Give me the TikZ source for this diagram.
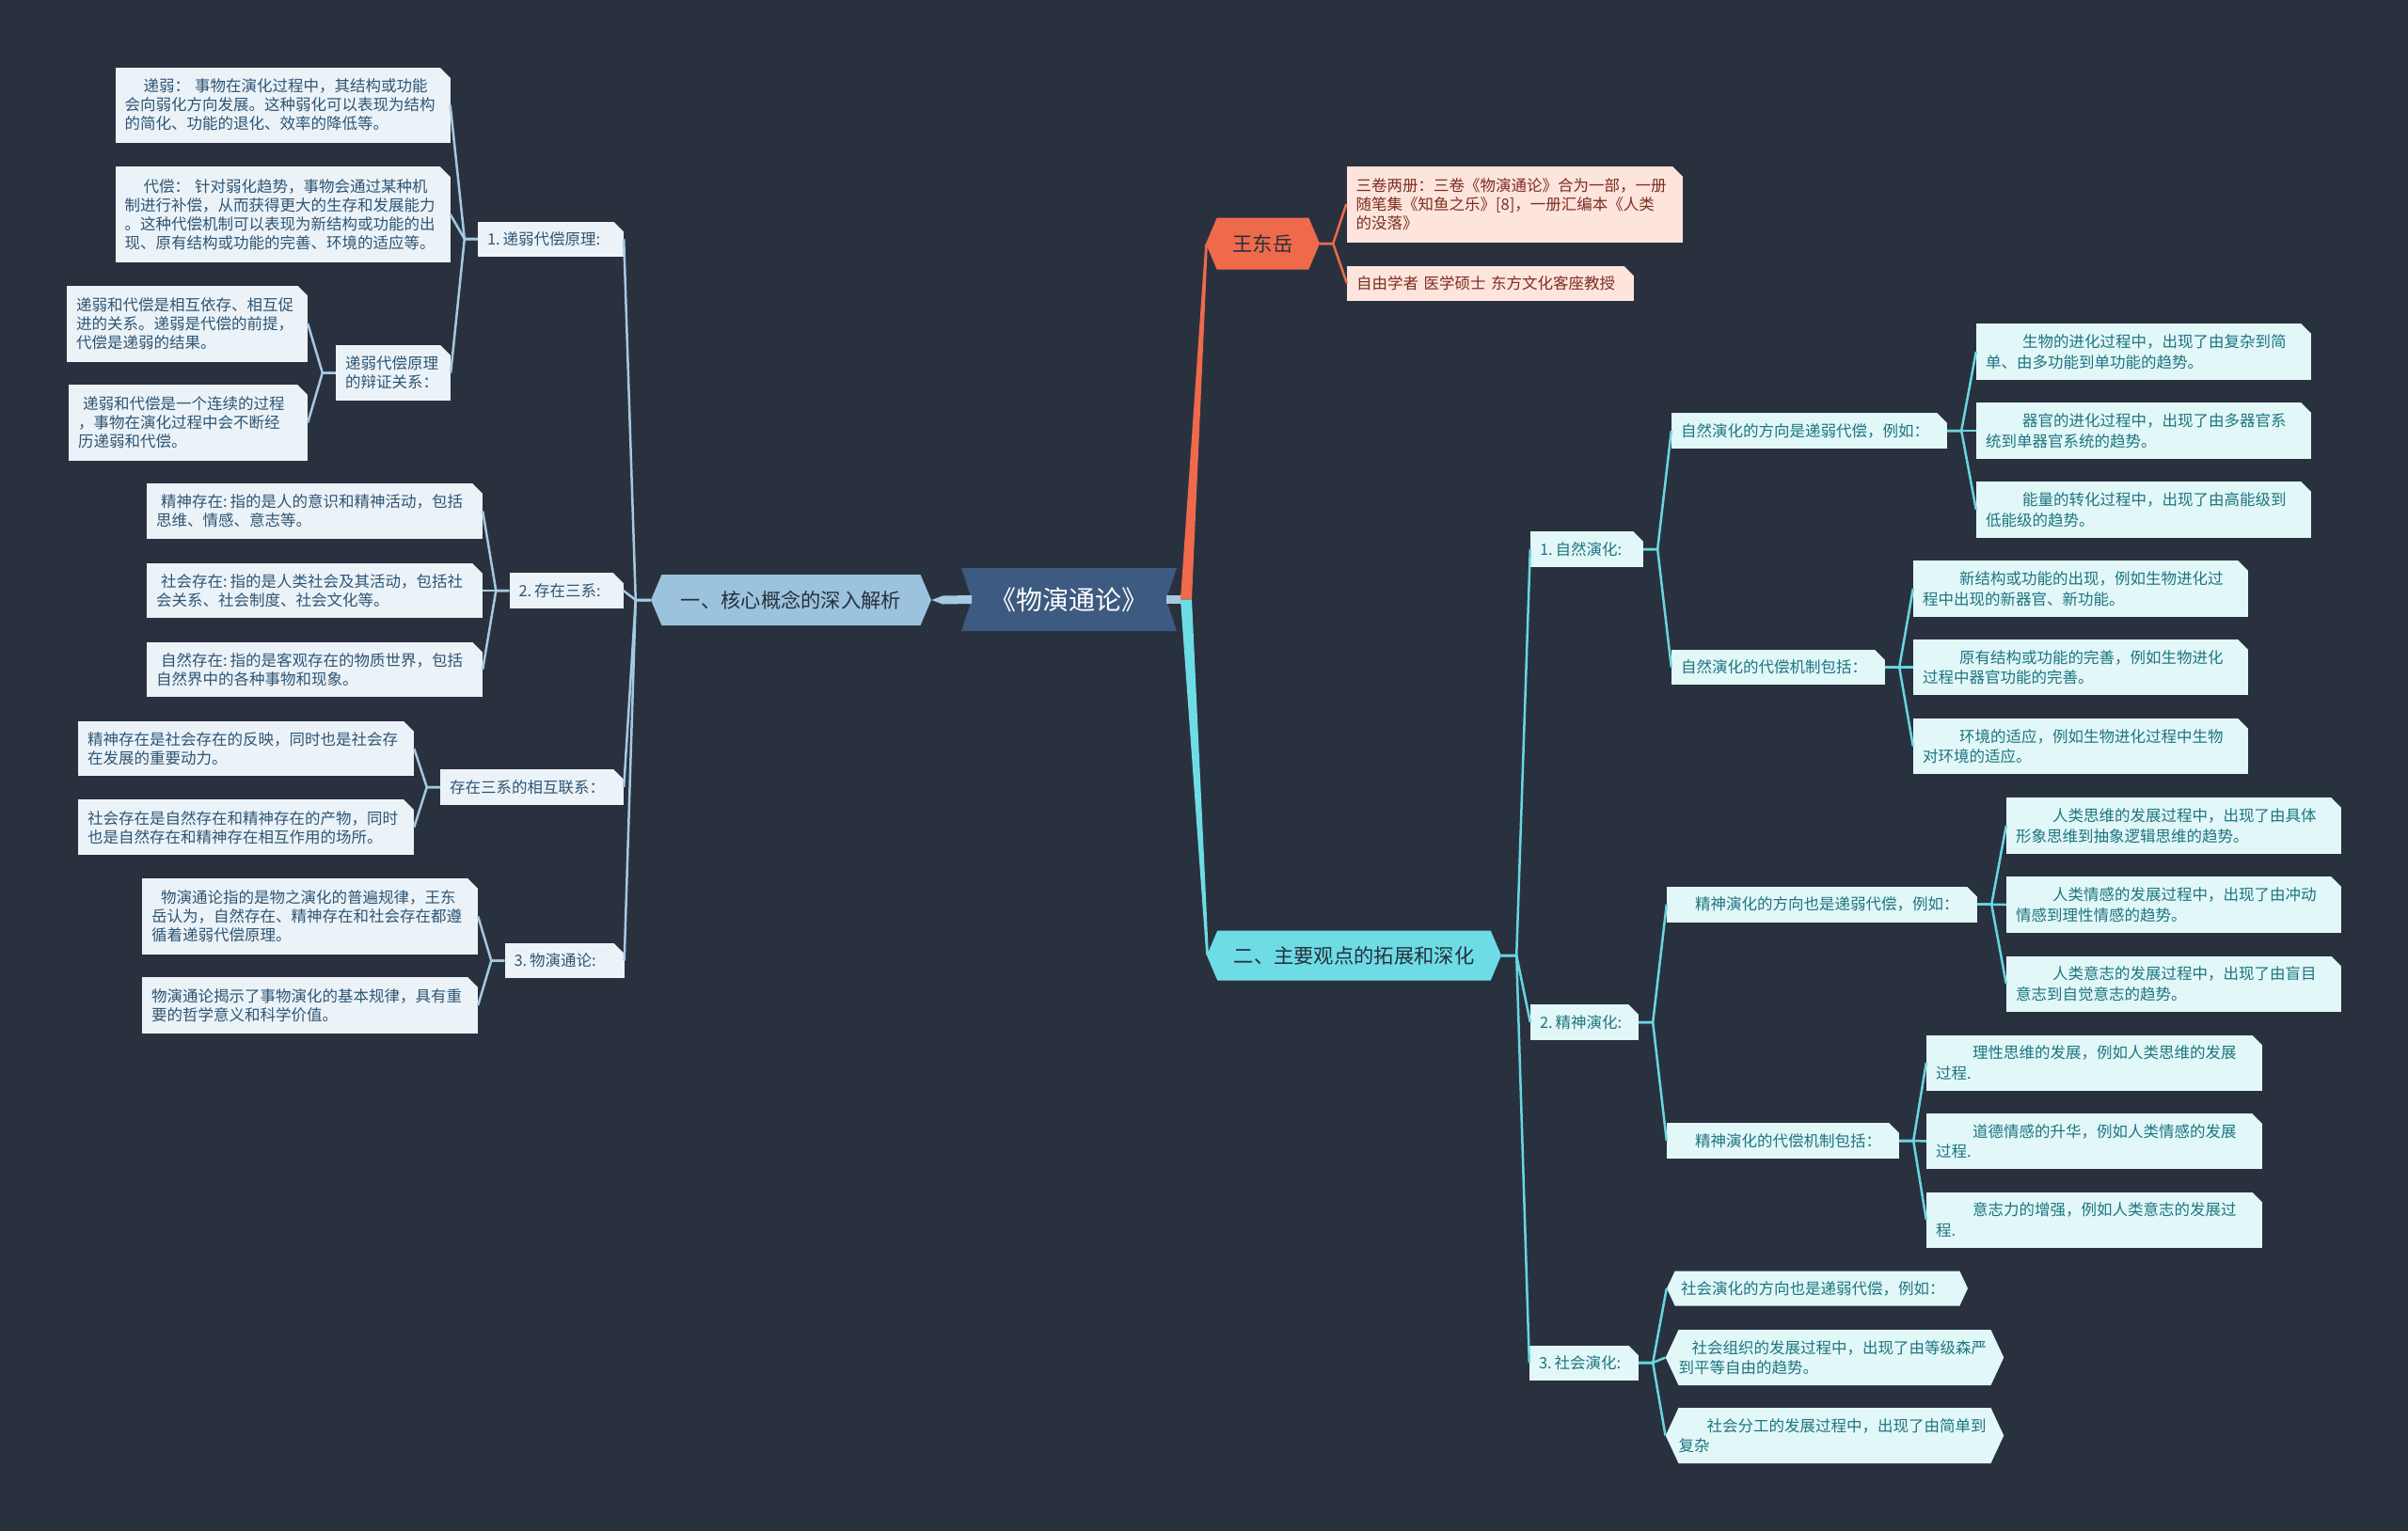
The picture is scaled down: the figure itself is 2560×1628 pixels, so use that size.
\documentclass[tikz,border=0pt]{standalone}
\usepackage{fontspec}
\newfontfamily\cjk{Noto Sans CJK SC}
\usetikzlibrary{calc, shapes.symbols}

\begin{document}
\begin{tikzpicture}[x=1pt, y=-1pt]
    % Define colours
    \definecolor{bgColour}{HTML}{29313F}
    \definecolor{centreColour}{HTML}{3D5A80}
    \definecolor{leftMain}{HTML}{9CC3DD}
    \definecolor{leftLine}{HTML}{A4C9E3}
    \definecolor{leftFill}{HTML}{EBF3F9}
    \definecolor{leftText}{HTML}{2F5573}
    \definecolor{authMain}{HTML}{EE6A4B}
    \definecolor{authFill}{HTML}{FDE4DD}
    \definecolor{authText}{HTML}{7C2E1F}
    \definecolor{rightMain}{HTML}{6EDCE5}
    \definecolor{rightLine}{HTML}{68D6E0}
    \definecolor{rightFill}{HTML}{E2F7F8}
    \definecolor{rightText}{HTML}{1D7580}
    \definecolor{darkText}{HTML}{26303D}

    % Macros for the font sizes
    \def\smallFont{\cjk\fontsize{16.5}{20}\selectfont}
    \def\rightFont{\cjk\fontsize{16.5}{21.5}\selectfont}
    \def\topicFont{\cjk\fontsize{21.3}{25}\selectfont}
    \def\titleFont{\cjk\fontsize{28}{32}\selectfont}
    \def\cut{11} % Size of the cut corner
    \def\ind{\hspace*{39pt}} % Indent of the right leaves
    \def\num#1{#1.\hspace{3pt}} % Number in front of a branch

    \tikzset{
      box/.style={rectangle, align=left, inner xsep=10pt, inner ysep=0pt, font=\smallFont},
      leftBox/.style={box, fill=leftFill, text=leftText},
      rightBox/.style={box, fill=rightFill, text=rightText, font=\rightFont},
      authBox/.style={box, fill=authFill, text=authText},
      wh/.style 2 args={text width=#1pt, minimum height=#2pt},
      topic/.style={signal, signal to=west and east, signal pointer angle=134, inner sep=0pt, font=\topicFont, text=darkText},
      tag/.style={signal, signal to=west and east, signal pointer angle=130, fill=rightFill, text=rightText, font=\rightFont, align=left, inner sep=0pt},
      leftWire/.style={draw=leftLine, line width=2.5pt, line join=round},
      rightWire/.style={draw=rightLine, line width=2.5pt, line join=round},
      authWire/.style={draw=authMain, line width=2.5pt, line join=round}
    }

  % Draw the background
  \fill[bgColour] (0,0) rectangle (2560,1628);
  \useasboundingbox (0,0) rectangle (2560,1628);

  % Central title and the two main topics
  \node[signal, signal to=nowhere, signal from=west and east, signal pointer angle=143, fill=centreColour, text=white, font=\titleFont, minimum width=229, minimum height=67, inner sep=0pt] (cen) at (1136.5,637.5) {《物演通论》};
  \node[topic, fill=leftMain, minimum width=298, minimum height=54] (one) at (841,638) {一、核心概念的深入解析};
  \node[topic, fill=authMain, minimum width=121, minimum height=55] (wdy) at (1342.5,259) {王东岳};
  \node[topic, fill=rightMain, minimum width=313, minimum height=53] (two) at (1439.5,1016) {二、主要观点的拓展和深化};

  % Left side: 1. 递弱代偿原理
  \node[leftBox, wh={135}{37}] (n1) at (585.5,254) {\num{1}递弱代偿原理:};
  \node[leftBox, wh={336}{80}] (a1) at (300.5,111.7) {\hspace*{20pt}递弱：\hspace{5pt}事物在演化过程中，其结构或功能\\会向弱化方向发展。这种弱化可以表现为结构\\的简化、功能的退化、效率的降低等。};
  \node[leftBox, wh={336}{102}] (a2) at (300.5,228) {\hspace*{20pt}代偿：\hspace{5pt}针对弱化趋势，事物会通过某种机\\制进行补偿，从而获得更大的生存和发展能力\\。这种代偿机制可以表现为新结构或功能的出\\现、原有结构或功能的完善、环境的适应等。};
  \node[leftBox, wh={102}{59}] (n11) at (418,396.5) {递弱代偿原理\\的辩证关系：};
  \node[leftBox, wh={236}{81}] (a3) at (199,344) {递弱和代偿是相互依存、相互促\\进的关系。递弱是代偿的前提，\\代偿是递弱的结果。};
  \node[leftBox, wh={234}{81}] (a4) at (200,449.5) {\hspace*{5pt}递弱和代偿是一个连续的过程\\，事物在演化过程中会不断经\\历递弱和代偿。};

  % Left side: 2. 存在三系
  \node[leftBox, wh={101}{38}] (n2) at (602,628) {\num{2}存在三系:};
  \node[leftBox, wh={337}{59}] (b1) at (334.5,543.5) {\hspace*{5pt}精神存在:\hspace{3pt}指的是人的意识和精神活动，包括\\思维、情感、意志等。};
  \node[leftBox, wh={337}{58}] (b2) at (334.5,628) {\hspace*{5pt}社会存在:\hspace{3pt}指的是人类社会及其活动，包括社\\会关系、社会制度、社会文化等。};
  \node[leftBox, wh={337}{58}] (b3) at (334.5,711.7) {\hspace*{5pt}自然存在:\hspace{3pt}指的是客观存在的物质世界，包括\\自然界中的各种事物和现象。};
  \node[leftBox, wh={175}{38}] (n21) at (565.5,837) {存在三系的相互联系：};
  \node[leftBox, wh={337}{58}] (b4) at (261.5,796) {精神存在是社会存在的反映，同时也是社会存\\在发展的重要动力。};
  \node[leftBox, wh={337}{59}] (b5) at (261.5,879.7) {社会存在是自然存在和精神存在的产物，同时\\也是自然存在和精神存在相互作用的场所。};

  % Left side: 3. 物演通论
  \node[leftBox, wh={107}{37}] (n3) at (600,1021.5) {\num{3}物演通论:};
  \node[leftBox, wh={337}{81}] (c1) at (329.5,974.5) {\hspace*{10pt}物演通论指的是物之演化的普遍规律，王东\\岳认为，自然存在、精神存在和社会存在都遵\\循着递弱代偿原理。};
  \node[leftBox, wh={337}{60}] (c2) at (329.5,1069) {物演通论揭示了事物演化的基本规律，具有重\\要的哲学意义和科学价值。};

  % Right side: the author
  \node[authBox, wh={337}{81}] (w1) at (1610,217) {三卷两册：三卷《物演通论》合为一部，一册\\随笔集《知鱼之乐》[8]，一册汇编本《人类\\的没落》};
  \node[authBox, wh={285}{37}] (w2) at (1584.5,301) {自由学者 医学硕士 东方文化客座教授};

  % Right side: 1. 自然演化
  \node[rightBox, wh={100}{38}] (rn1) at (1687,584) {\num{1}自然演化:};
  \node[rightBox, wh={273}{38}] (ra) at (1923.5,458) {自然演化的方向是递弱代偿，例如：};
  \node[rightBox, wh={336}{60}] (r1) at (2279,374) {\ind 生物的进化过程中，出现了由复杂到简\\单、由多功能到单功能的趋势。};
  \node[rightBox, wh={336}{60}] (r2) at (2279,458) {\ind 器官的进化过程中，出现了由多器官系\\统到单器官系统的趋势。};
  \node[rightBox, wh={336}{60}] (r3) at (2279,542) {\ind 能量的转化过程中，出现了由高能级到\\低能级的趋势。};
  \node[rightBox, wh={207}{37}] (rb) at (1890.5,709.5) {自然演化的代偿机制包括：};
  \node[rightBox, wh={336}{60}] (r4) at (2212,626) {\ind 新结构或功能的出现，例如生物进化过\\程中出现的新器官、新功能。};
  \node[rightBox, wh={336}{59}] (r5) at (2212,709.5) {\ind 原有结构或功能的完善，例如生物进化\\过程中器官功能的完善。};
  \node[rightBox, wh={336}{59}] (r6) at (2212,793.5) {\ind 环境的适应，例如生物进化过程中生物\\对环境的适应。};

  % Right side: 2. 精神演化
  \node[rightBox, wh={95}{38}] (rn2) at (1684.5,1087) {\num{2}精神演化:};
  \node[rightBox, wh={310}{38}] (sa) at (1937,961.7) {\hspace*{20pt}精神演化的方向也是递弱代偿，例如：};
  \node[rightBox, wh={336}{60}] (s1) at (2311,878) {\ind 人类思维的发展过程中，出现了由具体\\形象思维到抽象逻辑思维的趋势。};
  \node[rightBox, wh={336}{60}] (s2) at (2311,962) {\ind 人类情感的发展过程中，出现了由冲动\\情感到理性情感的趋势。};
  \node[rightBox, wh={336}{59}] (s3) at (2311,1046) {\ind 人类意志的发展过程中，出现了由盲目\\意志到自觉意志的趋势。};
  \node[rightBox, wh={227}{38}] (sb) at (1895.5,1213) {\hspace*{20pt}精神演化的代偿机制包括：};
  \node[rightBox, wh={337}{59}] (s4) at (2226.5,1130) {\ind 理性思维的发展，例如人类思维的发展\\过程.};
  \node[rightBox, wh={337}{59}] (s5) at (2226.5,1213.5) {\ind 道德情感的升华，例如人类情感的发展\\过程.};
  \node[rightBox, wh={337}{59}] (s6) at (2226.5,1297) {\ind 意志力的增强，例如人类意志的发展过\\程.};

  % Right side: 3. 社会演化
  \node[rightBox, wh={96}{37}] (rn3) at (1684,1449) {\num{3}社会演化:};
  \node[tag, text width=290pt, minimum width=320, minimum height=37] (t1) at (1932,1370) {社会演化的方向也是递弱代偿，例如：};
  \node[tag, text width=332pt, minimum width=355, minimum height=59] (t2) at (1950.5,1443.5) {\hspace*{14pt}社会组织的发展过程中，出现了由等级森严\\到平等自由的趋势。};
  \node[tag, text width=332pt, minimum width=355, minimum height=59] (t3) at (1950.5,1526.5) {\hspace*{30pt}社会分工的发展过程中，出现了由简单到\\复杂};

  % Cut the top right corner of the boxes
  \foreach \n in {a1,a2,n1,a3,a4,n11,b1,b2,b3,n2,b4,b5,n21,c1,c2,n3,w1,w2,rn1,ra,r1,r2,r3,rb,r4,r5,r6,rn2,sa,s1,s2,s3,sb,s4,s5,s6,rn3}
      \fill[bgColour] ($(\n.north east)+(0.5,-0.5)$) -- ++(-\cut-1,0) -- ++(\cut+1,\cut+1) -- cycle;

  % Join the main topics to the title
  \fill[leftLine] (one.east) -- ($(one.east)+(12,-4.5)$) -- ($(cen.west)+(0,-4.5)$) -- ($(cen.west)+(0,4.5)$) -- ($(one.east)+(12,4.5)$) -- cycle;
  \fill[leftLine] ($(cen.east)+(0,-4.5)$) rectangle ($(cen.east)+(16,4.5)$);
  \fill[authMain] ($(cen.east)+(15,0)$) -- ($(wdy.west)+(-0.5,0)$) -- ($(wdy.west)+(2,3)$) -- ($(cen.east)+(27,0)$) -- cycle;
  \fill[rightMain] ($(cen.east)+(15,0)$) -- ($(two.west)+(-0.5,0)$) -- ($(two.west)+(2,-3)$) -- ($(cen.east)+(27,0)$) -- cycle;

  % Connect the left branches
  \foreach \child in {n1, n2, n21, n3}
      \draw[leftWire] (one.west) -- ++(-16,0) -- (\child.east);
  \foreach \child in {a1, a2, n11}
      \draw[leftWire] (n1.west) -- ++(-14,0) -- (\child.east);
  \foreach \child in {a3, a4}
      \draw[leftWire] (n11.west) -- ++(-14,0) -- (\child.east);
  \foreach \child in {b1, b2, b3}
      \draw[leftWire] (n2.west) -- ++(-14,0) -- (\child.east);
  \foreach \child in {b4, b5}
      \draw[leftWire] (n21.west) -- ++(-14,0) -- (\child.east);
  \foreach \child in {c1, c2}
      \draw[leftWire] (n3.west) -- ++(-14,0) -- (\child.east);

  % Connect the right branches
  \foreach \child in {w1, w2}
      \draw[authWire] (wdy.east) -- ++(14,0) -- (\child.west);
  \foreach \child in {rn1, rn2, rn3}
      \draw[rightWire] (two.east) -- ++(16,0) -- (\child.west);
  \foreach \child in {ra, rb}
      \draw[rightWire] (rn1.east) -- ++(15,0) -- (\child.west);
  \foreach \child in {r1, r2, r3}
      \draw[rightWire] (ra.east) -- ++(15,0) -- (\child.west);
  \foreach \child in {r4, r5, r6}
      \draw[rightWire] (rb.east) -- ++(15,0) -- (\child.west);
  \foreach \child in {sa, sb}
      \draw[rightWire] (rn2.east) -- ++(15,0) -- (\child.west);
  \foreach \child in {s1, s2, s3}
      \draw[rightWire] (sa.east) -- ++(15,0) -- (\child.west);
  \foreach \child in {s4, s5, s6}
      \draw[rightWire] (sb.east) -- ++(15,0) -- (\child.west);
  \foreach \child in {t1, t2, t3}
      \draw[rightWire] (rn3.east) -- ++(15,0) -- (\child.west);

\end{tikzpicture}
\end{document}
